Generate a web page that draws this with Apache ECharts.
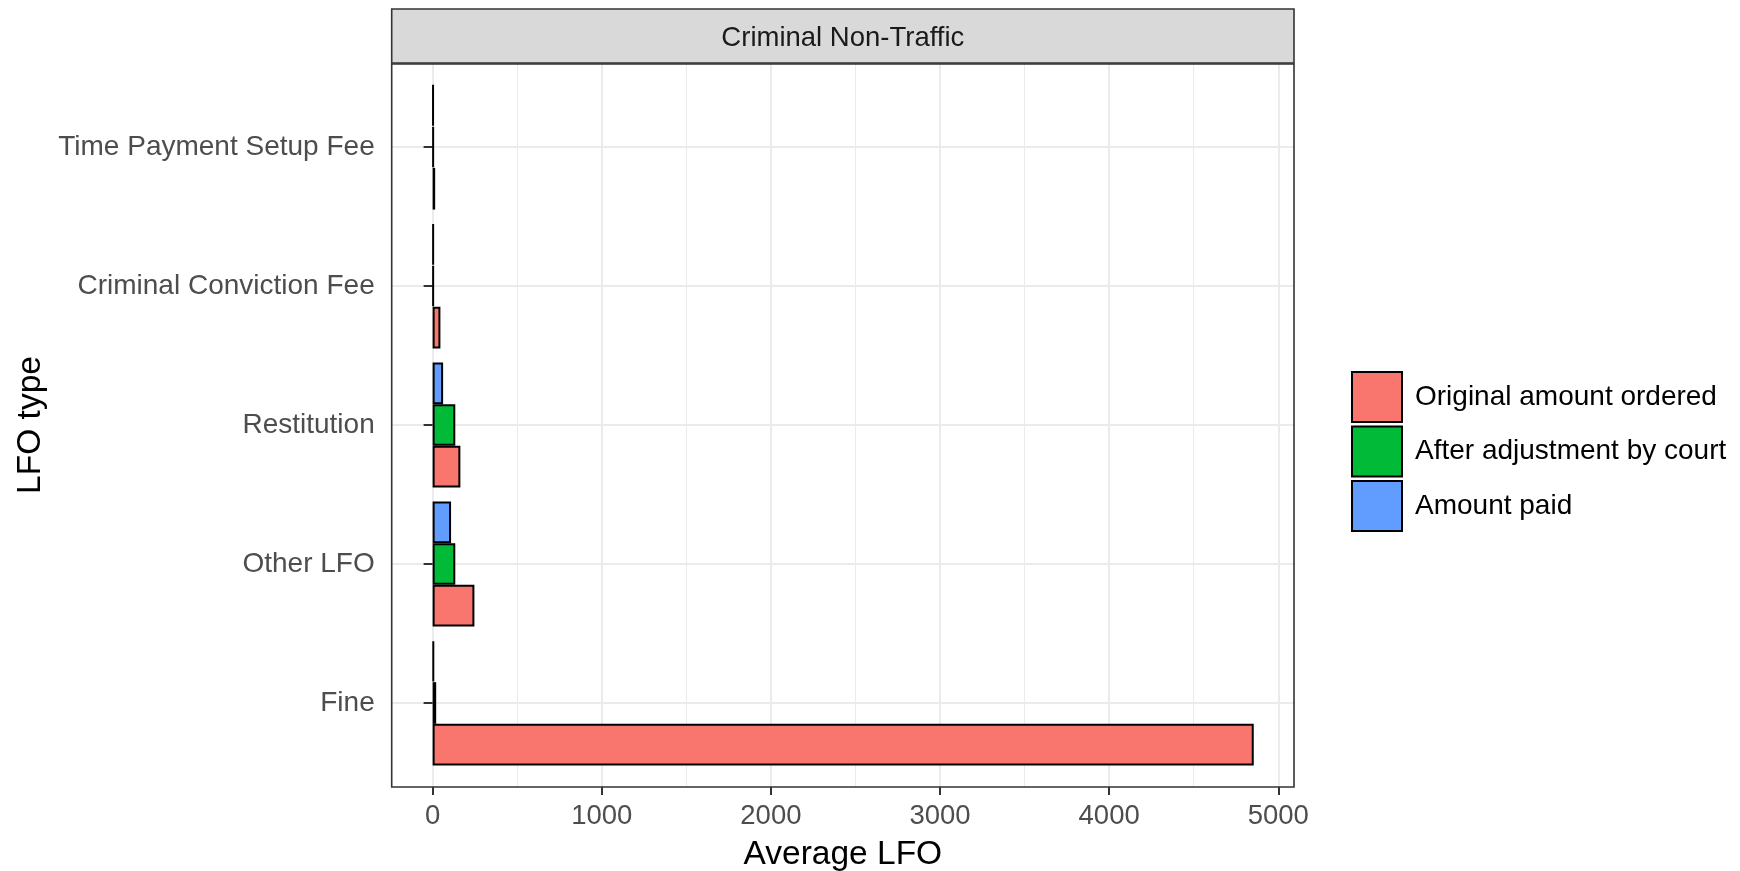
<!DOCTYPE html>
<html><head><meta charset="utf-8">
<script src="https://cdn.jsdelivr.net/npm/echarts@6/dist/echarts.min.js"></script>
<style>html,body{margin:0;padding:0;background:#fff}#c{width:1740px;height:871px}</style>
</head><body><div id="c"></div>
<script>
// ---- data ----
const categories = ['Fine', 'Other LFO', 'Restitution', 'Criminal Conviction Fee', 'Time Payment Setup Fee'];
const seriesNames = ['Original amount ordered', 'After adjustment by court', 'Amount paid'];
const originalAmount = [4855, 247, 164, 46, 15];
const afterAdjustment = [21, 134, 134, 6, 6];
const amountPaid = [8, 109, 62, 6, 5];
const xTickValues = [0, 1000, 2000, 3000, 4000, 5000];
const xRange = [-242, 5093];
const panelTitle = 'Criminal Non-Traffic';
const xTitle = 'Average LFO';
const yTitle = 'LFO type';

// ---- styling ----
const FONT = 'Liberation Sans';
const colors = ['#F8766D', '#00BA38', '#619CFF'];
const valuesBySeries = [originalAmount, afterAdjustment, amountPaid];
const P = { left: 391.7, right: 1294, top: 64, bottom: 787 };
const band = 139;
const dataTop = 147 - band / 2, dataBottom = 703 + band / 2;

const chart = echarts.init(document.getElementById('c'), null, { renderer: 'canvas' });

// ECharts stacks grouped horizontal bars top-down, so add series in reverse
// to put "Original amount ordered" at the bottom of each group (as in ggplot).
const series = seriesNames.map((n, i) => ({
  type: 'bar', name: n, xAxisIndex: 1, yAxisIndex: 1,
  data: valuesBySeries[i],
  barCategoryGap: '10%', barGap: '0%',
  itemStyle: { color: colors[i], borderColor: '#000', borderWidth: 2 },
  emphasis: { disabled: true }
})).reverse();

const option = {
  animation: false,
  textStyle: { fontFamily: FONT },
  grid: [
    { left: P.left, top: P.top, width: P.right - P.left, height: P.bottom - P.top,
      containLabel: false, outerBoundsMode: 'none' },
    { left: P.left, top: dataTop, width: P.right - P.left, height: dataBottom - dataTop,
      containLabel: false, outerBoundsMode: 'none' }
  ],
  xAxis: [
    {
      gridIndex: 0, type: 'value', min: xRange[0], max: xRange[1], splitNumber: 5,
      axisLine: { show: false, onZero: false },
      axisTick: { show: true, length: 8, lineStyle: { color: '#333', width: 2 }, customValues: xTickValues },
      axisLabel: { fontSize: 27.5, color: '#4D4D4D', margin: 15, customValues: xTickValues, fontFamily: FONT,
                   formatter: v => String(v) },
      splitLine: { show: true, lineStyle: { color: '#EBEBEB', width: 2 } },
      minorTick: { show: false, splitNumber: 2 },
      minorSplitLine: { show: true, lineStyle: { color: '#EBEBEB', width: 1 } },
      name: xTitle, nameLocation: 'middle', nameGap: 51,
      nameTextStyle: { fontSize: 33.5, color: '#000', fontFamily: FONT }
    },
    {
      gridIndex: 1, type: 'value', min: xRange[0], max: xRange[1], show: false,
      splitLine: { show: false }
    }
  ],
  yAxis: [
    { gridIndex: 0, type: 'value', min: 0, max: 1, show: false, splitLine: { show: false } },
    {
      gridIndex: 1, type: 'category', data: categories,
      axisLine: { show: false },
      axisTick: { show: true, alignWithLabel: true, length: 9, lineStyle: { color: '#333', width: 2 } },
      axisLabel: { fontSize: 28, color: '#4D4D4D', margin: 17, interval: 0, fontFamily: FONT },
      splitLine: { show: true, alignWithLabel: true, interval: 0, lineStyle: { color: '#EBEBEB', width: 2 } },
      name: yTitle, nameLocation: 'middle', nameRotate: 90, nameGap: 343,
      nameTextStyle: { fontSize: 33.5, color: '#000', fontFamily: FONT }
    }
  ],
  legend: {
    data: seriesNames, orient: 'vertical', left: 1346, top: 366,
    itemWidth: 50, itemHeight: 50, itemGap: 2.5, icon: 'rect',
    textStyle: { fontSize: 28, color: '#000', fontFamily: FONT, padding: [0, 0, 0, 8] },
    selectedMode: false
  },
  graphic: [
    { type: 'rect', z: 100, silent: true,
      shape: { x: P.left, y: P.top, width: P.right - P.left, height: P.bottom - P.top },
      style: { fill: 'none', stroke: '#333', lineWidth: 1.6 } },
    { type: 'rect', z: 100, silent: true,
      shape: { x: P.left, y: 9, width: P.right - P.left, height: P.top - 1 - 9 },
      style: { fill: '#D9D9D9', stroke: '#333', lineWidth: 1.6 } },
    { type: 'text', z: 101, silent: true, x: (P.left + P.right) / 2, y: (9 + P.top) / 2 + 2,
      style: { text: panelTitle, fontSize: 27.5, fontFamily: FONT, fill: '#1A1A1A', align: 'center', verticalAlign: 'middle' } }
  ],
  series: series
};
chart.setOption(option);
</script>
</body></html>
